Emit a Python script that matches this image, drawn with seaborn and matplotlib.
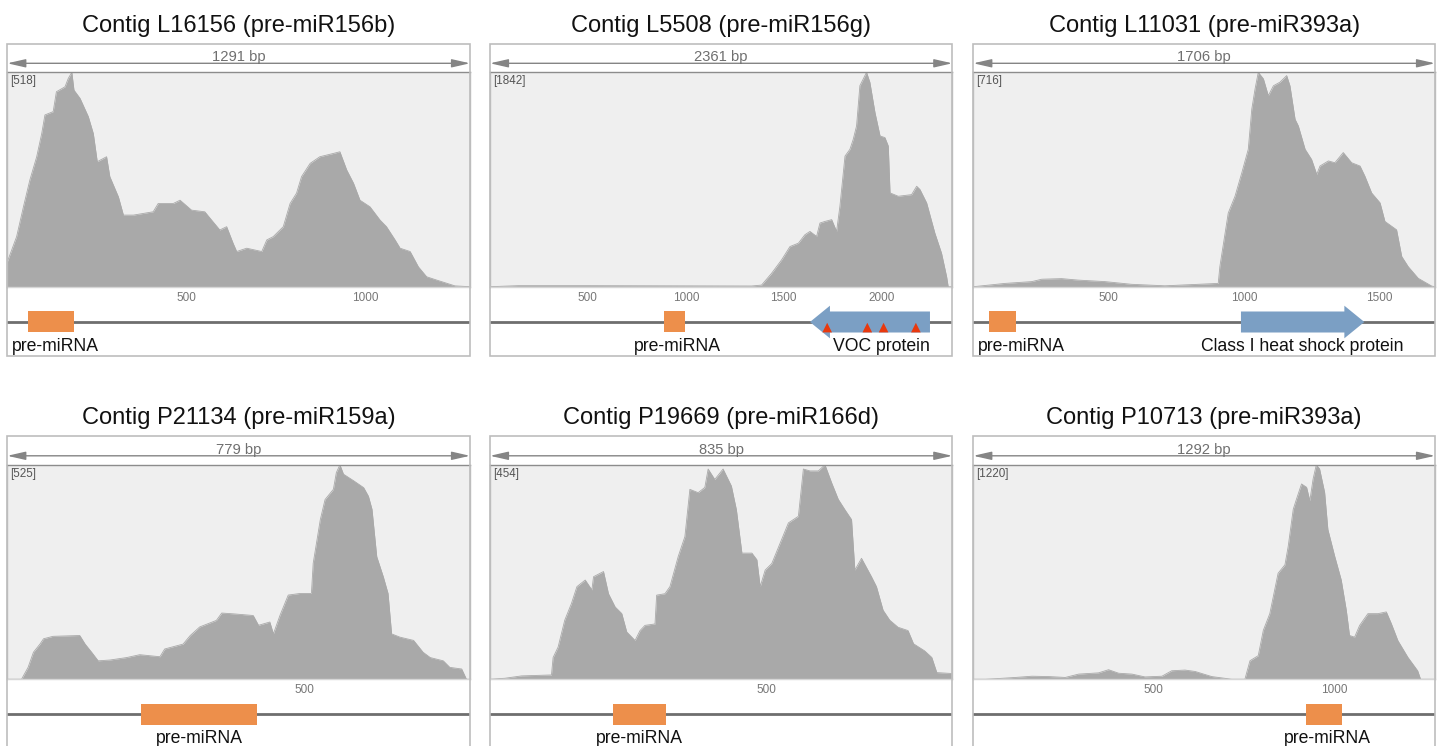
import numpy as np
import pandas as pd
import matplotlib.pyplot as plt
import matplotlib.patches as mpatches
import seaborn as sns

sns.set_style("white")
plt.rcParams['font.family'] = ['Liberation Sans', 'DejaVu Sans']

# ---- data ----
titles = ['Contig L16156 (pre-miR156b)', 'Contig L5508 (pre-miR156g)', 'Contig L11031 (pre-miR393a)',
          'Contig P21134 (pre-miR159a)', 'Contig P19669 (pre-miR166d)', 'Contig P10713 (pre-miR393a)']
contig_len = [1291, 2361, 1706, 779, 835, 1292]
max_depth = [518, 1842, 716, 525, 454, 1220]
tick_pos = [[500, 1000], [500, 1000, 1500, 2000], [500, 1000, 1500], [500], [500], [500, 1000]]

l16156_pos = [0, 26, 45, 63, 82, 96, 105, 128, 137, 161, 170, 180, 186, 203, 226, 240, 251, 277, 286, 310,
              324, 352, 407, 421, 463, 482, 514, 551, 570, 593, 612, 630, 640, 668, 710, 724, 742, 770, 789, 807,
              821, 845, 872, 910, 928, 947, 966, 984, 1012, 1040, 1058, 1082, 1096, 1124, 1147, 1170, 1198, 1249, 1291]
l16156_cov = [60, 121, 193, 258, 314, 370, 415, 423, 471, 483, 503, 518, 475, 455, 411, 370, 302, 314, 266, 217,
              173, 173, 181, 201, 201, 209, 185, 181, 161, 137, 145, 105, 85, 93, 85, 113, 121, 145, 201, 226,
              266, 298, 314, 322, 326, 282, 250, 209, 193, 161, 145, 113, 93, 85, 48, 24, 16, 2, 0]

l5508_pos = [0, 145, 485, 1336, 1387, 1438, 1489, 1532, 1575, 1608, 1634, 1668, 1685, 1711, 1745, 1770, 1787, 1813,
             1838, 1855, 1872, 1889, 1906, 1923, 1940, 1966, 1992, 2017, 2034, 2043, 2085, 2153, 2179, 2196, 2230,
             2272, 2306, 2332, 2340, 2361]
l5508_cov = [0, 9, 9, 6, 14, 115, 230, 345, 374, 446, 475, 432, 547, 561, 576, 475, 691, 1122, 1180, 1266, 1381,
             1727, 1784, 1842, 1756, 1497, 1295, 1281, 1209, 806, 777, 791, 863, 835, 720, 460, 288, 86, 0, 0]

l11031_pos = [0, 43, 117, 216, 253, 326, 388, 487, 585, 708, 831, 905, 911, 942, 967, 992, 1016, 1029, 1041, 1053,
              1072, 1090, 1109, 1133, 1158, 1170, 1189, 1201, 1226, 1250, 1269, 1281, 1312, 1336, 1367, 1398, 1429,
              1447, 1472, 1503, 1521, 1564, 1583, 1607, 1644, 1694, 1706]
l11031_cov = [0, 4, 11, 17, 25, 27, 22, 17, 8, 3, 8, 11, 67, 246, 302, 380, 459, 593, 660, 716, 694, 638, 671, 683,
              705, 671, 559, 537, 459, 425, 375, 403, 420, 414, 448, 414, 403, 369, 313, 280, 218, 190, 101, 67, 28, 2, 0]

p21134_pos = [0, 24, 35, 44, 55, 61, 77, 122, 131, 142, 153, 173, 201, 223, 257, 265, 296, 308, 324, 352, 361, 381,
              414, 423, 442, 448, 459, 473, 493, 512, 515, 527, 535, 549, 554, 560, 566, 583, 600, 608, 614, 622,
              633, 641, 647, 661, 684, 700, 712, 734, 745, 765, 773, 779]
p21134_cov = [0, 0, 29, 66, 86, 99, 105, 107, 86, 66, 45, 47, 53, 60, 55, 74, 86, 107, 128, 144, 162, 160, 156, 132,
              140, 111, 156, 206, 210, 210, 284, 391, 440, 465, 506, 525, 502, 486, 469, 448, 416, 300, 251, 210,
              111, 103, 95, 66, 53, 45, 29, 25, 0, 0]

p19669_pos = [0, 27, 57, 111, 114, 123, 135, 147, 157, 172, 184, 187, 205, 214, 226, 238, 247, 262, 271, 280, 298,
              301, 316, 325, 340, 352, 361, 376, 388, 394, 406, 421, 436, 445, 455, 473, 482, 488, 497, 509, 524,
              539, 557, 566, 578, 593, 605, 617, 629, 641, 653, 659, 671, 689, 698, 710, 722, 737, 755, 765, 785,
              798, 807, 835]
p19669_cov = [0, 2, 7, 9, 46, 68, 125, 160, 196, 210, 189, 217, 228, 181, 153, 139, 100, 82, 103, 114, 117, 178,
              181, 196, 260, 302, 402, 395, 406, 445, 423, 445, 409, 359, 267, 267, 253, 196, 231, 245, 288, 331,
              345, 445, 441, 441, 454, 416, 381, 359, 338, 231, 256, 217, 196, 146, 125, 110, 103, 75, 60, 46, 14, 12]

p10713_pos = [0, 34, 71, 117, 163, 209, 255, 292, 347, 375, 403, 440, 476, 523, 550, 587, 615, 661, 716, 753, 767,
              790, 804, 822, 845, 864, 873, 887, 896, 910, 924, 933, 942, 951, 960, 974, 983, 1002, 1020, 1034,
              1043, 1057, 1071, 1094, 1122, 1145, 1159, 1177, 1205, 1232, 1240, 1278]
p10713_cov = [0, 0, 4, 10, 17, 15, 10, 29, 36, 54, 34, 29, 13, 17, 48, 52, 44, 15, 0, 0, 105, 134, 278, 373, 603,
              651, 756, 967, 1025, 1111, 1092, 1015, 1139, 1220, 1197, 1063, 852, 699, 565, 393, 249, 239, 306,
              373, 373, 383, 316, 220, 124, 48, 0, 0]

cov_pos = [l16156_pos, l5508_pos, l11031_pos, p21134_pos, p19669_pos, p10713_pos]
cov_val = [l16156_cov, l5508_cov, l11031_cov, p21134_cov, p19669_cov, p10713_cov]

# pre-miRNA spans (bp)
mirna_start = [58, 888, 58, 225, 223, 923]
mirna_end = [186, 996, 158, 420, 317, 1021]

# protein genes: panel index -> (start, end, strand, name)
genes = {1: (1634, 2247, -1, 'VOC protein'), 2: (989, 1445, 1, 'Class I heat shock protein')}
voc_sites = [1722, 1927, 2010, 2175]

# ---- layout (pixels) ----
W, H = 1441, 746
col_x = [(7.3, 470.0), (490.0, 952.3), (973.3, 1435.0)]
row_top = [43.5, 436.0]
view_len = [1291, 2361, 1706, 779, 835, 1280]
mirna_label = [(12, 'left'), (957, 'center'), (18, 'left'), (324, 'center'), (270, 'center'), (983, 'center')]
gene_label = {1: (1997, 'center'), 2: (1217, 'center')}

BOX_H = 313.0
COV_TOP, COV_BOT = 28.8, 243.2
LINE_Y = 35.3          # gene line inside the track axes (px below coverage baseline)
LABEL_Y = 64.0

fill_col = '#a9a9a9'
bg_col = '#efefef'
orange = '#ed8f4b'
blue = '#7b9fc4'
red = '#e8390e'

fig = plt.figure(figsize=(W / 100, H / 100), dpi=100)


def fx(x):
    return x / W


def fy(y):
    return 1 - y / H


for i in range(6):
    r, c = divmod(i, 3)
    x0, x1 = col_x[c]
    top = row_top[r]
    w = x1 - x0
    L = view_len[i]

    fig.text(fx((x0 + x1) / 2), fy(top - 11.8), titles[i], ha='center', va='baseline',
             fontsize=17, color='#111111')

    # ruler
    rax = fig.add_axes([fx(x0), fy(top + COV_TOP), w / W, COV_TOP / H])
    rax.axis('off')
    rax.set_xlim(0, 1)
    rax.set_ylim(COV_TOP, 0)
    rax.annotate('', xy=(0, 19.8), xytext=(1, 19.8),
                 arrowprops=dict(arrowstyle='<|-|>,head_length=1.1,head_width=0.25', color='#858585',
                                 lw=1.0, shrinkA=0, shrinkB=0))
    rax.text(0.5, 17.8, f'{contig_len[i]} bp', ha='center', va='baseline', fontsize=10.6, color='#6f6f6f')

    # coverage
    ax = fig.add_axes([fx(x0), fy(top + COV_BOT), w / W, (COV_BOT - COV_TOP) / H])
    ax.set_facecolor(bg_col)
    df = pd.DataFrame({'pos': cov_pos[i], 'depth': cov_val[i]})
    ax.fill_between(df['pos'], df['depth'], color=fill_col, lw=0)
    sns.lineplot(data=df, x='pos', y='depth', ax=ax, color=fill_col, lw=0.6)
    ax.set_xlim(0, L)
    ax.set_ylim(0, max_depth[i])
    ax.set_xlabel('')
    ax.set_ylabel('')
    ax.set_yticks([])
    ax.set_xticks(tick_pos[i])
    ax.set_xticklabels([str(t) for t in tick_pos[i]])
    ax.tick_params(axis='x', length=1.5, width=0.8, color='#b0b0b0', pad=2.2,
                   labelsize=8.5, labelcolor='#777777')
    for side, col in [('top', '#8c8c8c'), ('bottom', '#d6d6d6'), ('left', '#bdbdbd'), ('right', '#bdbdbd')]:
        ax.spines[side].set_visible(True)
        ax.spines[side].set_color(col)
        ax.spines[side].set_linewidth(1.0)
    ax.annotate(f'[{max_depth[i]}]', xy=(0, 1), xycoords='axes fraction', xytext=(2, -2),
                textcoords='offset points', ha='left', va='top', fontsize=8.4, color='#555555')

    # gene track
    tax = fig.add_axes([fx(x0), fy(top + BOX_H), w / W, (BOX_H - COV_BOT) / H])
    tax.axis('off')
    tax.set_xlim(0, L)
    tax.set_ylim(BOX_H - COV_BOT, 0)
    tax.axhline(LINE_Y, color='#6e6e6e', lw=2.0, zorder=1)
    s, e = mirna_start[i], mirna_end[i]
    tax.add_patch(mpatches.Rectangle((s, LINE_Y - 10.5), e - s, 21, fc=orange, ec='none', zorder=2))
    lx, ha = mirna_label[i]
    tax.text(lx, LABEL_Y, 'pre-miRNA', ha=ha, va='baseline', fontsize=12.7, color='#111111')

    if i in genes:
        gs, ge, strand, name = genes[i]
        hl = 20 * L / w
        y = LINE_Y
        if strand > 0:
            pts = [(gs, y - 10.5), (ge - hl, y - 10.5), (ge - hl, y - 16.3), (ge, y),
                   (ge - hl, y + 16.3), (ge - hl, y + 10.5), (gs, y + 10.5)]
        else:
            pts = [(ge, y - 10.5), (gs + hl, y - 10.5), (gs + hl, y - 16.3), (gs, y),
                   (gs + hl, y + 16.3), (gs + hl, y + 10.5), (ge, y + 10.5)]
        tax.add_patch(mpatches.Polygon(pts, closed=True, fc=blue, ec='none', zorder=2))
        gx, gha = gene_label[i]
        tax.text(gx, LABEL_Y, name, ha=gha, va='baseline', fontsize=12.7, color='#111111', zorder=4)
        if name == 'VOC protein':
            sns.scatterplot(x=voc_sites, y=[y + 5.6] * len(voc_sites), ax=tax, marker='^', s=48,
                            color=red, edgecolor='none', zorder=3)
            tax.set_xlim(0, L)
            tax.set_ylim(BOX_H - COV_BOT, 0)

    # outer box
    fig.add_artist(mpatches.Rectangle((fx(x0), fy(top + BOX_H)), w / W, BOX_H / H,
                                      transform=fig.transFigure, fill=False, ec='#bdbdbd', lw=1.2))

fig.savefig('out.png', dpi=100)
